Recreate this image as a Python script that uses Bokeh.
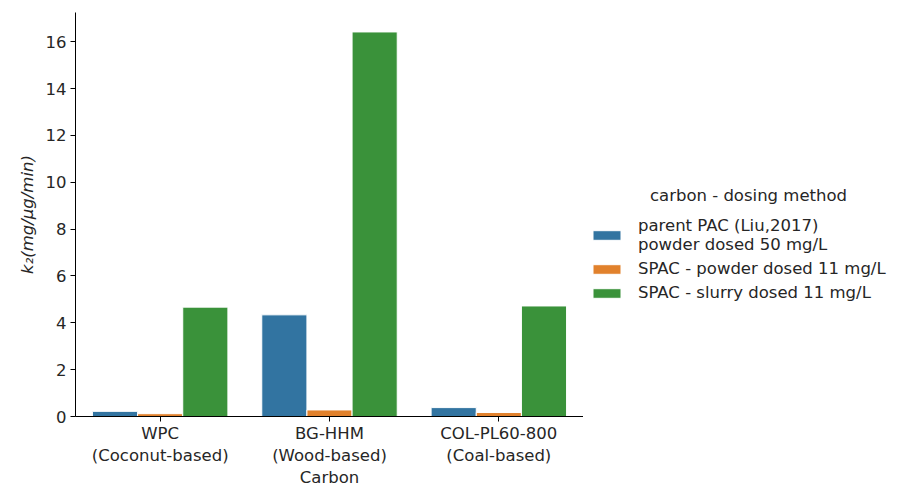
from bokeh.plotting import figure
from bokeh.models import ColumnDataSource, FactorRange, Range1d, Legend, LegendItem, Label
from bokeh.layouts import row
from bokeh.transform import dodge
from bokeh.embed import file_html
from bokeh.resources import INLINE

carbons = ["WPC\n(Coconut-based)", "BG-HHM\n(Wood-based)", "COL-PL60-800\n(Coal-based)"]
parent_pac = [0.22, 4.34, 0.38]
spac_powder = [0.12, 0.28, 0.17]
spac_slurry = [4.67, 16.42, 4.72]
series_labels = ["parent PAC (Liu,2017)\npowder dosed 50 mg/L",
                 "SPAC - powder dosed 11 mg/L",
                 "SPAC - slurry dosed 11 mg/L"]
legend_title = "carbon - dosing method"
colors = ["#3274a1", "#e1812c", "#3a923a"]
y_ticks = [0, 2, 4, 6, 8, 10, 12, 14, 16]

font = "DejaVu Sans"
fs = "16.5px"
tc = "#262626"

src = ColumnDataSource(dict(c=carbons, a=parent_pac, b=spac_powder, s=spac_slurry))

p = figure(width=583, height=490, output_backend="svg", toolbar_location=None,
           x_range=FactorRange(factors=carbons), y_range=Range1d(0, 17.25),
           min_border_left=75, min_border_right=0, min_border_top=12, min_border_bottom=60)
p.outline_line_color = None
p.grid.visible = False

w = 0.8 / 3
for i, col in enumerate(["a", "b", "s"]):
    p.vbar(x=dodge("c", (i - 1) * w, range=p.x_range), top=col, width=w, source=src,
           fill_color=colors[i], line_color="white", line_width=1)

for ax in (p.xaxis[0], p.yaxis[0]):
    ax.major_label_text_font = font
    ax.major_label_text_font_size = fs
    ax.major_label_text_color = tc
    ax.axis_label_text_font = font
    ax.axis_label_text_font_size = fs
    ax.axis_label_text_font_style = "normal"
    ax.axis_label_text_color = tc
    ax.axis_line_color = "black"
    ax.major_tick_line_color = "black"
    ax.major_tick_out = 5
    ax.major_tick_in = 0
    ax.minor_tick_line_color = None

p.yaxis.ticker = y_ticks
p.yaxis.axis_label = "k₂(mg/μg/min)"
p.yaxis.axis_label_text_font_style = "italic"
p.yaxis.axis_label_standoff = 6
p.yaxis.major_label_standoff = 4
p.xaxis.axis_label = "Carbon"
p.xaxis.axis_label_standoff = 0
p.xaxis.major_label_standoff = 2

# legend panel (frame aligned with the main frame by the row layout)
frame_bottom = 415
q = figure(width=321, height=490, output_backend="svg", toolbar_location=None,
           x_range=Range1d(0, 1), y_range=Range1d(0, 1), x_axis_type=None, y_axis_type=None,
           min_border=0)
q.outline_line_color = None
q.grid.visible = False
lsrc = ColumnDataSource(dict(x=[-10], top=[0]))
lrs = [q.vbar(x="x", top="top", width=0.1, source=lsrc, fill_color=colors[i], line_color="white")
       for i in range(3)]
legend = Legend(items=[LegendItem(label=series_labels[i], renderers=[lrs[i]]) for i in range(3)],
                location=(6, frame_bottom - 301),
                border_line_color=None, background_fill_alpha=0,
                label_text_font=font, label_text_font_size=fs, label_text_color=tc,
                glyph_width=35, glyph_height=12, label_standoff=14, spacing=5, padding=4)
q.add_layout(legend, "center")
q.add_layout(Label(x=165, y=frame_bottom - 194, x_units="screen", y_units="screen", text=legend_title,
                   text_align="center", text_baseline="middle", text_font=font,
                   text_font_size=fs, text_color=tc))

open("out.html", "w").write(file_html(row(p, q), INLINE))
